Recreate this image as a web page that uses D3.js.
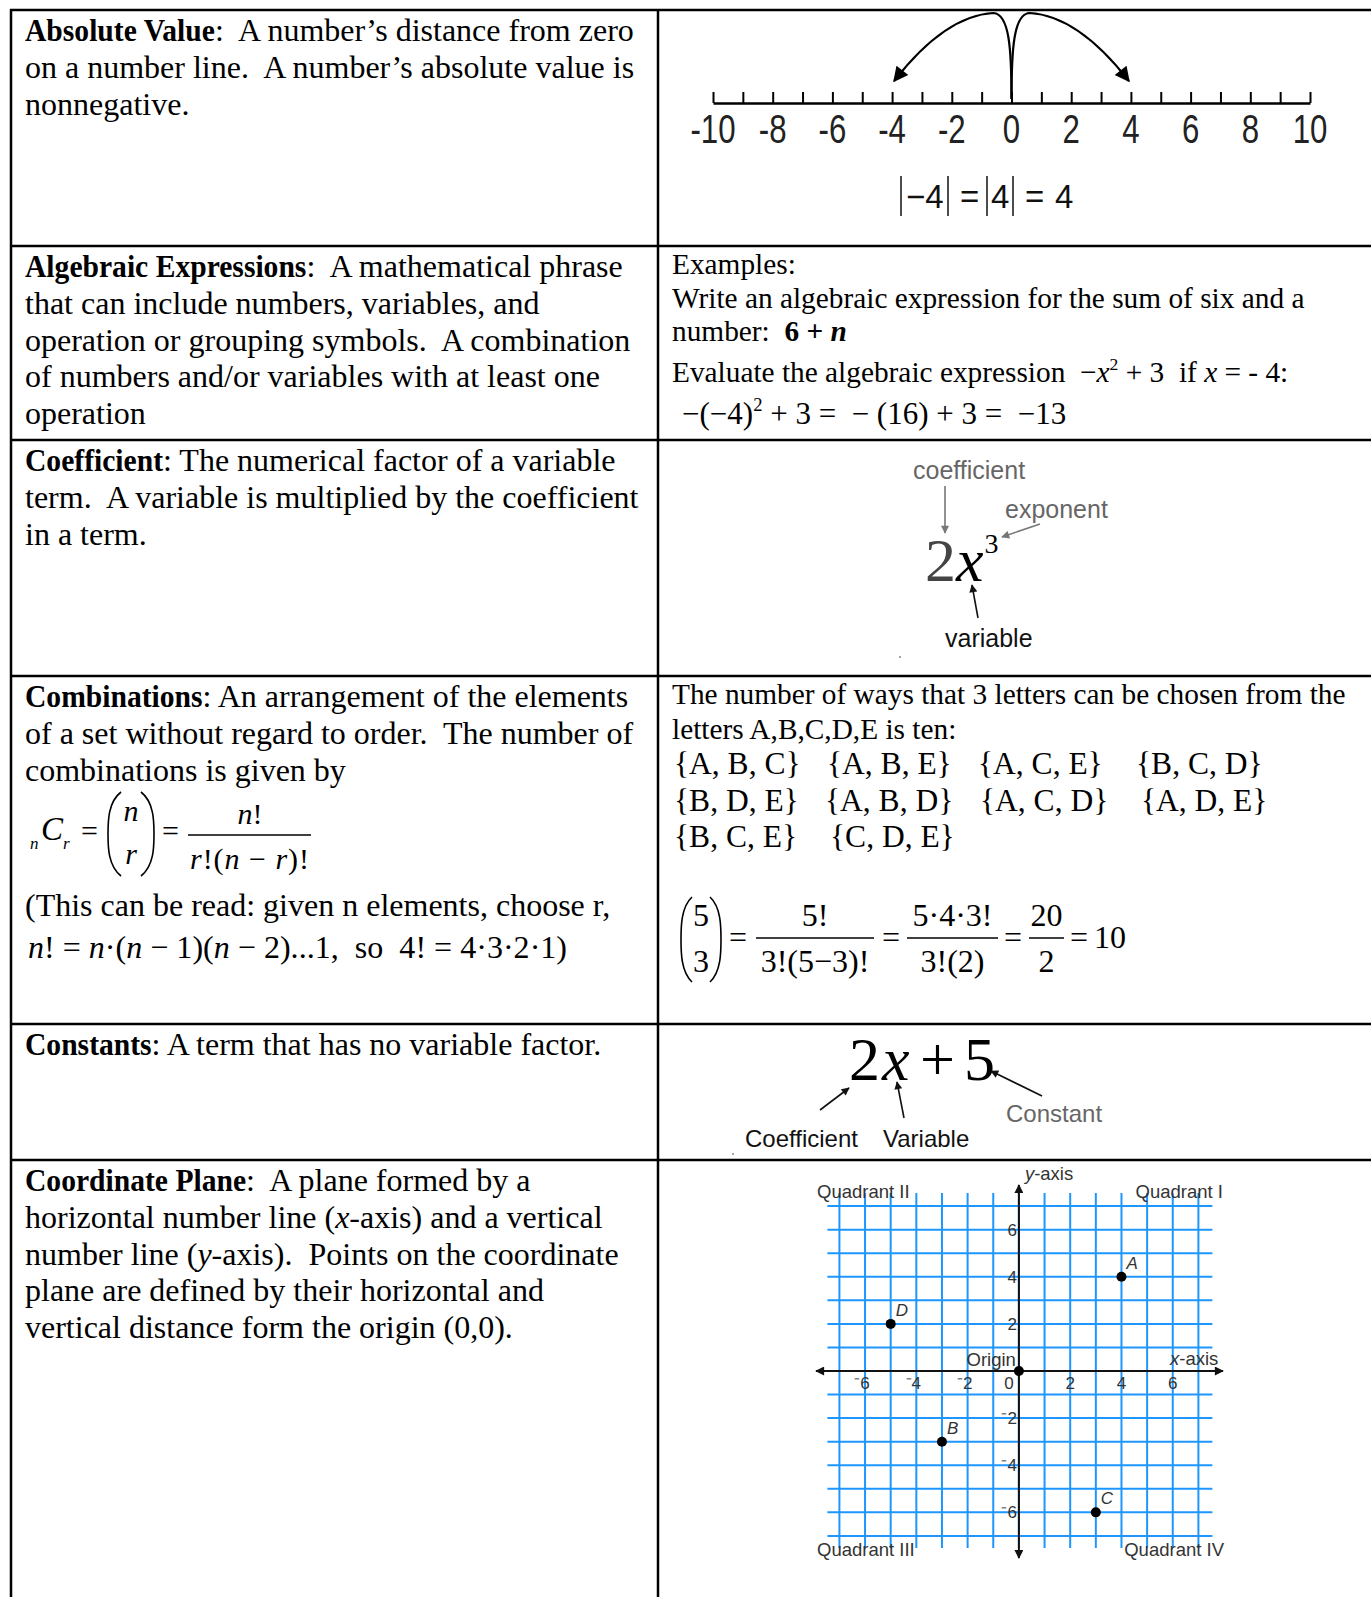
<!DOCTYPE html>
<html><head><meta charset="utf-8">
<script src="https://cdn.jsdelivr.net/npm/d3@7"></script>
<style>html,body{margin:0;padding:0;background:#fff}text{white-space:pre}</style>
</head><body>
<svg id="c" width="1371" height="1597" xmlns="http://www.w3.org/2000/svg" xml:space="preserve"></svg>
<script>
// ---------- data ----------
const rowTops = [10, 246, 440, 676, 1024, 1160];
const absLines = [[["Absolute Value","B"],":  A number\u2019s distance from zero"],
  ["on a number line.  A number\u2019s absolute value is"],["nonnegative."]];
const algLines = [[["Algebraic Expressions","B"],":  A mathematical phrase"],
  ["that can include numbers, variables, and"],["operation or grouping symbols.  A combination"],
  ["of numbers and/or variables with at least one"],["operation"]];
const coefLines = [[["Coefficient","B"],": The numerical factor of a variable"],
  ["term.  A variable is multiplied by the coefficient"],["in a term."]];
const combLines = [[["Combinations","B"],": An arrangement of the elements"],
  ["of a set without regard to order.  The number of"],["combinations is given by"]];
const constLines = [[["Constants","B"],": A term that has no variable factor."]];
const coordLines = [[["Coordinate Plane","B"],":  A plane formed by a"],
  ["horizontal number line (",["x","i"],"-axis) and a vertical"],
  ["number line (",["y","i"],"-axis).  Points on the coordinate"],
  ["plane are defined by their horizontal and"],["vertical distance form the origin (0,0)."]];
const exampleLines = [["Examples:"],["Write an algebraic expression for the sum of six and a"],
  ["number:  ",["6 + ","b"],["n","bi"]]];
const combRightLines = [["The number of ways that 3 letters can be chosen from the"],["letters A,B,C,D,E is ten:"]];
const setRows = [["{A, B, C}","{A, B, E}","{A, C, E}","{B, C, D}"],
                 ["{B, D, E}","{A, B, D}","{A, C, D}","{A, D, E}"],
                 ["{B, C, E}","{C, D, E}"]];
const setCols = [[674, 827, 978, 1136],[674, 825, 980, 1141],[674, 830]];
const numberLineTicks = d3.range(-10, 11);
const numberLineLabels = [-10,-8,-6,-4,-2,0,2,4,6,8,10];
const gridValues = d3.range(-7, 8);
const planeTickLabels = [-6,-4,-2,2,4,6];
const planePoints = [{n:"A",x:4,y:4},{n:"B",x:-3,y:-3},{n:"C",x:3,y:-6},{n:"D",x:-5,y:2}];

// ---------- setup ----------
const SERIF = "'Liberation Serif','Times New Roman',Times,serif";
const SANS = "'Liberation Sans',Arial,Helvetica,sans-serif";
const BOLD_SX = 0.925;
const svg = d3.select("#c");
svg.append("rect").attr("width",1371).attr("height",1597).attr("fill","#fff");
const defs = svg.append("defs");
function marker(id, color, w, h){
  defs.append("marker").attr("id",id).attr("viewBox","0 0 10 10").attr("refX",9).attr("refY",5)
    .attr("markerWidth",w).attr("markerHeight",h).attr("orient","auto-start-reverse").attr("markerUnits","userSpaceOnUse")
    .append("path").attr("d","M0,0L10,5L0,10z").attr("fill",color);
}
marker("ab","#000",20,15); marker("ag","#777",10,8); marker("ak","#111",10,8); marker("ax","#111",10,9);

function rich(sel, x, y, segs, size, family, anchor){
  const t = sel.append("text").attr("x",x).attr("y",y).attr("font-size",size)
    .attr("font-family",family||SERIF).attr("fill","#000");
  if (anchor) t.attr("text-anchor",anchor);
  let shift = 0;
  segs.forEach(s=>{
    const [str, st] = typeof s === "string" ? [s, ""] : [s[0], s[1]||""];
    const ts = t.append("tspan").text(str);
    if (st.includes("b")) ts.attr("font-weight","bold");
    if (st.includes("i")) ts.attr("font-style","italic");
    let target = 0;
    if (st.includes("^")) { target = -size*0.42; ts.attr("font-size", size*0.6); }
    if (st.includes("_")) { target = size*0.25; ts.attr("font-size", size*0.6); }
    if (target !== shift) { ts.attr("dy", target - shift); shift = target; }
  });
  return t;
}
function block(lines, x, y0, lh, size){
  lines.forEach((l,i)=>{
    const y = y0 + i*lh;
    if (Array.isArray(l[0]) && l[0][1] === "B") {
      const bt = svg.append("text").attr("transform",`translate(${x},${y}) scale(${BOLD_SX},1)`)
        .attr("font-family",SERIF).attr("font-size",size).attr("font-weight","bold").attr("fill","#000").text(l[0][0]);
      const w = bt.node().getComputedTextLength()*BOLD_SX;
      rich(svg, x + w, y, l.slice(1), size);
    } else rich(svg, x, y, l, size);
  });
}

// ---------- table borders ----------
const B = svg.append("g").attr("stroke","#000").attr("stroke-width",2.5);
B.append("line").attr("x1",11).attr("x2",11).attr("y1",9).attr("y2",1597);
B.append("line").attr("x1",658).attr("x2",658).attr("y1",9).attr("y2",1597);
rowTops.forEach(t=>B.append("line").attr("x1",10).attr("x2",1371).attr("y1",t).attr("y2",t));

// ---------- left column ----------
const LX = 25, LH = 36.8, FS = 32;
block(absLines, LX, rowTops[0]+31, LH, FS);
block(algLines, LX, rowTops[1]+31, LH, FS);
block(coefLines, LX, rowTops[2]+31, LH, FS);
block(combLines, LX, rowTops[3]+31, LH, FS);
block(constLines, LX, rowTops[4]+31, LH, FS);
block(coordLines, LX, rowTops[5]+31, LH, FS);

// nCr formula
rich(svg, 30, 849, [["n","i"]], 17);
rich(svg, 41, 840, [["C","i"]], 33);
rich(svg, 63, 849, [["r","i"]], 17);
rich(svg, 81, 841, ["="], 30);
function paren(g, x, y1, y2, dir, w){
  const m = (y1+y2)/2, h = (y2-y1);
  g.append("path").attr("d",`M${x},${y1} C${x-dir*w},${y1+h*0.12} ${x-dir*w},${m-h*0.15} ${x-dir*w},${m} C${x-dir*w},${m+h*0.15} ${x-dir*w},${y2-h*0.12} ${x},${y2}`)
    .attr("fill","none").attr("stroke","#000").attr("stroke-width",1.6);
}
paren(svg, 121, 792, 876, 1, 13);
paren(svg, 141, 792, 876, -1, 13);
rich(svg, 131, 821, [["n","i"]], 30, null, "middle");
rich(svg, 131, 864, [["r","i"]], 30, null, "middle");
rich(svg, 162, 841, ["="], 30);
svg.append("line").attr("x1",188).attr("x2",311).attr("y1",835).attr("y2",835).attr("stroke","#000").attr("stroke-width",1.3);
rich(svg, 250, 824, [["n","i"],"!"], 30, null, "middle");
rich(svg, 190, 869, [["r","i"],"!(",["n","i"]," \u2212 ",["r","i"],")!"], 30).attr("textLength",119).attr("lengthAdjust","spacing");
rich(svg, LX, 916, ["(This can be read: given n elements, choose r,"], FS);
rich(svg, LX+3, 958, [["n","i"],"! = ",["n","i"],"\u00b7(",["n","i"]," \u2212 1)(",["n","i"]," \u2212 2)...1,  so  4! = 4\u00b73\u00b72\u00b71)"], 32)
  .attr("textLength",539).attr("lengthAdjust","spacing");

// ---------- row 1 right: number line ----------
const nx = d3.scaleLinear().domain([-10,10]).range([713,1310]);
const nl = svg.append("g").attr("transform","translate(0,103)");
nl.call(d3.axisTop(nx).tickValues(numberLineTicks).tickSize(11).tickSizeOuter(0).tickFormat(""));
nl.selectAll("path,line").attr("stroke","#000").attr("stroke-width",2);
nl.selectAll(".domain").attr("stroke-width",2.5);
svg.append("g").selectAll("text").data(numberLineLabels).join("text")
  .attr("transform", d=>`translate(${nx(d)},143) scale(0.78,1)`)
  .attr("text-anchor","middle").attr("font-family",SANS).attr("font-size",40).attr("fill","#222")
  .text(d=>String(d));
const x0 = nx(0), xm4 = nx(-4), xp4 = nx(4);
const arcs = svg.append("g").attr("fill","none").attr("stroke","#000").attr("stroke-width",2.2);
arcs.append("path").attr("d",`M${x0},99 C${x0},50 ${x0-2},14 ${x0-18},13 C${x0-55},15 ${xm4+30},45 ${xm4+2},81`).attr("marker-end","url(#ab)");
arcs.append("path").attr("d",`M${x0},99 C${x0},50 ${x0+2},14 ${x0+18},13 C${x0+55},15 ${xp4-30},45 ${xp4-2},81`).attr("marker-end","url(#ab)");
// |-4| = |4| = 4
const av = svg.append("g").attr("font-family",SANS).attr("font-size",33).attr("fill","#111");
[901, 948, 987, 1013].forEach(x=>av.append("line").attr("x1",x).attr("x2",x).attr("y1",176).attr("y2",216).attr("stroke","#111").attr("stroke-width",1.5));
av.append("text").attr("x",906).attr("y",208).text("\u22124");
av.append("text").attr("x",960).attr("y",208).text("=");
av.append("text").attr("x",991).attr("y",208).text("4");
av.append("text").attr("x",1025).attr("y",208).text("=");
av.append("text").attr("x",1055).attr("y",208).text("4");

// ---------- row 2 right ----------
const RX = 672, RF = 29.33, RL = 33.7;
block(exampleLines, RX, rowTops[1]+28, RL, RF);
rich(svg, RX, 382, ["Evaluate the algebraic expression  \u2212",["x","i"],["2","^"]," + 3  if ",["x","i"]," = - 4:"], RF);
rich(svg, 682, 424, ["\u2212(\u22124)",["2","^"]," + 3 =  \u2212 (16) + 3 =  \u221213"], 31);

// ---------- row 3 right: coefficient ----------
const cg = svg.append("g").attr("font-family",SANS).attr("font-size",25);
cg.append("text").attr("x",913).attr("y",479).attr("fill","#666").text("coefficient");
cg.append("text").attr("x",1005).attr("y",518).attr("fill","#666").text("exponent");
cg.append("text").attr("x",945).attr("y",647).attr("fill","#111").text("variable");
svg.append("line").attr("x1",945).attr("y1",486).attr("x2",945).attr("y2",533).attr("stroke","#777").attr("stroke-width",1.6).attr("marker-end","url(#ag)");
svg.append("line").attr("x1",1040).attr("y1",524).attr("x2",1002).attr("y2",537).attr("stroke","#777").attr("stroke-width",1.6).attr("marker-end","url(#ag)");
svg.append("line").attr("x1",978).attr("y1",618).attr("x2",972).attr("y2",585).attr("stroke","#111").attr("stroke-width",1.6).attr("marker-end","url(#ak)");
const ex = svg.append("text").attr("x",925).attr("y",581).attr("font-family",SERIF).attr("font-size",62);
ex.append("tspan").attr("fill","#444").text("2");
ex.append("tspan").attr("font-style","italic").attr("fill","#000").text("x");
ex.append("tspan").attr("font-size",28).attr("dy",-28).attr("dx",1).attr("fill","#000").text("3");
svg.append("circle").attr("cx",900).attr("cy",657).attr("r",1).attr("fill","#888");

// ---------- row 4 right ----------
block(combRightLines, RX, rowTops[3]+28, 34.5, RF);
setRows.forEach((r,i)=>r.forEach((s,j)=>rich(svg, setCols[i][j], 774 + i*36.7, [s], 31.5)));
paren(svg, 692, 897, 982, 1, 11);
paren(svg, 710, 897, 982, -1, 11);
rich(svg, 701, 926, ["5"], 32, null, "middle");
rich(svg, 701, 972, ["3"], 32, null, "middle");
const fracs = [{num:"5!", den:"3!(5\u22123)!", x1:756, x2:874},{num:"5\u00b74\u00b73!", den:"3!(2)", x1:907, x2:998},{num:"20", den:"2", x1:1029, x2:1064}];
[729, 882, 1004, 1070].forEach(x=>rich(svg, x, 948, ["="], 32));
fracs.forEach(f=>{
  svg.append("line").attr("x1",f.x1).attr("x2",f.x2).attr("y1",938).attr("y2",938).attr("stroke","#000").attr("stroke-width",1.3);
  rich(svg, (f.x1+f.x2)/2, 926, [f.num], 32, null, "middle");
  rich(svg, (f.x1+f.x2)/2, 972, [f.den], 32, null, "middle");
});
rich(svg, 1094, 948, ["10"], 32);

// ---------- row 5 right: constants ----------
const kt = svg.append("g").attr("font-family",SERIF).attr("font-size",62).attr("fill","#000");
kt.append("text").attr("x",849).attr("y",1080).text("2");
kt.append("text").attr("x",882).attr("y",1080).attr("font-style","italic").text("x");
kt.append("text").attr("x",920).attr("y",1080).text("+");
kt.append("text").attr("x",964).attr("y",1080).text("5");
const kg = svg.append("g").attr("font-family",SANS).attr("font-size",24);
kg.append("text").attr("x",745).attr("y",1147).attr("fill","#111").text("Coefficient");
kg.append("text").attr("x",883).attr("y",1147).attr("fill","#111").text("Variable");
kg.append("text").attr("x",1006).attr("y",1122).attr("fill","#666").text("Constant");
svg.append("line").attr("x1",820).attr("y1",1110).attr("x2",849).attr("y2",1088).attr("stroke","#111").attr("stroke-width",1.6).attr("marker-end","url(#ak)");
svg.append("line").attr("x1",904).attr("y1",1118).attr("x2",897).attr("y2",1082).attr("stroke","#111").attr("stroke-width",1.6).attr("marker-end","url(#ak)");
svg.append("line").attr("x1",1042).attr("y1",1096).attr("x2",991).attr("y2",1071).attr("stroke","#111").attr("stroke-width",1.6).attr("marker-end","url(#ak)");
svg.append("circle").attr("cx",733).attr("cy",1154).attr("r",1).attr("fill","#888");

// ---------- row 6 right: coordinate plane ----------
const px = d3.scaleLinear().domain([-7,7]).range([839.4,1198.4]);
const py = d3.scaleLinear().domain([-7,7]).range([1535.9,1206.1]);
const pg = svg.append("g");
const grid = pg.append("g").attr("stroke","#1e96ff").attr("stroke-width",2);
grid.selectAll("line.v").data(gridValues).join("line").attr("class","v")
  .attr("x1",d=>px(d)).attr("x2",d=>px(d)).attr("y1",py(7)-13).attr("y2",py(-7)+12);
grid.selectAll("line.h").data(gridValues).join("line").attr("class","h")
  .attr("y1",d=>py(d)).attr("y2",d=>py(d)).attr("x1",px(-7)-12).attr("x2",px(7)+14);
pg.append("line").attr("x1",816).attr("x2",1223).attr("y1",py(0)).attr("y2",py(0))
  .attr("stroke","#111").attr("stroke-width",2).attr("marker-start","url(#ax)").attr("marker-end","url(#ax)");
pg.append("line").attr("y1",1185).attr("y2",1558).attr("x1",px(0)).attr("x2",px(0))
  .attr("stroke","#111").attr("stroke-width",2).attr("marker-start","url(#ax)").attr("marker-end","url(#ax)");
const lab = pg.append("g").attr("font-family",SANS).attr("font-size",17).attr("fill","#333");
lab.selectAll("text.xt").data(planeTickLabels).join("text").attr("class","xt")
  .attr("x",d=>px(d)-(d<0?3:0)).attr("y",py(0)+18).attr("text-anchor","middle").text(d=>d<0?"\u207b"+(-d):String(d));
lab.append("text").attr("x",px(0)-10).attr("y",py(0)+18).attr("text-anchor","middle").text("0");
lab.selectAll("text.yt").data(planeTickLabels).join("text").attr("class","yt")
  .attr("x",px(0)-2).attr("y",d=>py(d)+6).attr("text-anchor","end").text(d=>d<0?"\u207b"+(-d):String(d));
const ql = pg.append("g").attr("font-family",SANS).attr("font-size",18.5).attr("fill","#333");
ql.append("text").attr("x",817).attr("y",1198).text("Quadrant II");
ql.append("text").attr("x",1223).attr("y",1198).attr("text-anchor","end").text("Quadrant I");
ql.append("text").attr("x",817).attr("y",1556).text("Quadrant III");
ql.append("text").attr("x",1224).attr("y",1556).attr("text-anchor","end").text("Quadrant IV");
ql.append("text").attr("x",px(0)-3).attr("y",py(0)-5).attr("text-anchor","end").text("Origin");
const xa = ql.append("text").attr("x",1170).attr("y",py(0)-6);
xa.append("tspan").attr("font-style","italic").text("x"); xa.append("tspan").text("-axis");
const ya = ql.append("text").attr("x",px(0)+6).attr("y",1180);
ya.append("tspan").attr("font-style","italic").text("y"); ya.append("tspan").text("-axis");
pg.append("circle").attr("cx",px(0)).attr("cy",py(0)).attr("r",5).attr("fill","#000");
pg.selectAll("circle.pt").data(planePoints).join("circle").attr("class","pt")
  .attr("cx",d=>px(d.x)).attr("cy",d=>py(d.y)).attr("r",5).attr("fill","#000");
pg.selectAll("text.pl").data(planePoints).join("text").attr("class","pl")
  .attr("x",d=>px(d.x)+5).attr("y",d=>py(d.y)-8).attr("font-family",SANS).attr("font-size",17)
  .attr("font-style","italic").attr("fill","#333").text(d=>d.n);
</script>
</body></html>
